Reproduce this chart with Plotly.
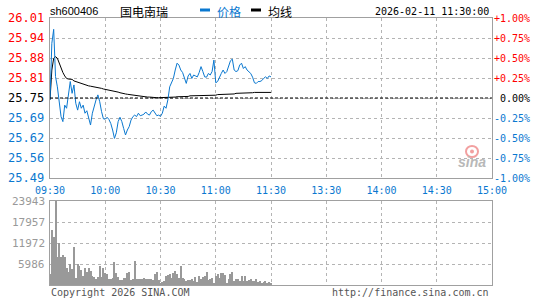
import plotly.graph_objects as go

# ---------------- data ----------------
minutes = list(range(121))  # minute offsets from 09:30 (morning session)

price = [25.744, 25.926, 25.971, 25.819, 25.786, 25.738, 25.690, 25.674, 25.727, 25.717,
         25.770, 25.803, 25.765, 25.792, 25.733, 25.711, 25.738, 25.717, 25.727, 25.701,
         25.709, 25.681, 25.663, 25.701, 25.727, 25.744, 25.760, 25.738, 25.706, 25.683,
         25.682, 25.688, 25.681, 25.668, 25.647, 25.620, 25.638, 25.674, 25.688, 25.674,
         25.652, 25.631, 25.647, 25.658, 25.679, 25.690, 25.695, 25.690, 25.701, 25.693,
         25.695, 25.698, 25.705, 25.698, 25.695, 25.706, 25.711, 25.701, 25.693, 25.695,
         25.691, 25.701, 25.724, 25.717, 25.744, 25.786, 25.803, 25.813, 25.840, 25.862,
         25.856, 25.840, 25.832, 25.817, 25.797, 25.821, 25.829, 25.813, 25.824, 25.821,
         25.818, 25.832, 25.851, 25.835, 25.818, 25.817, 25.829, 25.824, 25.835, 25.872,
         25.799, 25.803, 25.818, 25.829, 25.840, 25.829, 25.835, 25.851, 25.870, 25.875,
         25.840, 25.835, 25.838, 25.856, 25.862, 25.845, 25.851, 25.840, 25.835, 25.829,
         25.817, 25.799, 25.797, 25.803, 25.803, 25.806, 25.813, 25.818, 25.813, 25.821,
         25.818]

avg_price = [25.744, 25.840, 25.878, 25.883, 25.878, 25.862, 25.846, 25.832, 25.821, 25.813,
             25.811, 25.811, 25.810, 25.805, 25.803, 25.799, 25.797, 25.795, 25.793, 25.792,
             25.791, 25.789, 25.788, 25.787, 25.787, 25.785, 25.784, 25.783, 25.781, 25.779,
             25.778, 25.777, 25.776, 25.775, 25.773, 25.772, 25.770, 25.769, 25.767, 25.765,
             25.764, 25.763, 25.762, 25.761, 25.760, 25.759, 25.758, 25.757, 25.757, 25.755,
             25.755, 25.754, 25.754, 25.753, 25.753, 25.752, 25.752, 25.751, 25.751, 25.751,
             25.751, 25.751, 25.751, 25.751, 25.751, 25.751, 25.752, 25.753, 25.753, 25.754,
             25.754, 25.755, 25.755, 25.755, 25.755, 25.755, 25.757, 25.757, 25.757, 25.757,
             25.757, 25.758, 25.758, 25.758, 25.758, 25.758, 25.759, 25.759, 25.759, 25.759,
             25.759, 25.761, 25.761, 25.761, 25.761, 25.761, 25.763, 25.763, 25.763, 25.763,
             25.763, 25.765, 25.765, 25.765, 25.765, 25.765, 25.767, 25.767, 25.767, 25.767,
             25.767, 25.768, 25.768, 25.768, 25.768, 25.768, 25.768, 25.768, 25.768, 25.768,
             25.768]

volume = [3220, 15590, 13770, 23943, 8070, 12060, 8070, 8640, 8070, 4930,
          3790, 5900, 4560, 10920, 2080, 6070, 5420, 4190, 2650, 4930,
          3790, 4930, 3990, 2650, 2370, 1800, 2370, 5420, 2370, 4930,
          3420, 3220, 1800, 1800, 2080, 6560, 3420, 2370, 1340, 1340,
          2080, 2080, 3510, 3790, 1340, 1800, 6840, 1620, 1800, 1800,
          1620, 2080, 1620, 1800, 1800, 1800, 1340, 3220, 3790, 1340,
          660, 940, 1140, 2570, 2760, 3220, 2080, 3420, 3990, 3050,
          1910, 5420, 2080, 1620, 1140, 1510, 1340, 1800, 1140, 2280,
          940, 2650, 1620, 2280, 2570, 3790, 1510, 1800, 2080, 660,
          2480, 3220, 2080, 3420, 3420, 2760, 660, 1800, 3220, 3790,
          1140, 1620, 1620, 1140, 2650, 1140, 2480, 1140, 1340, 1800,
          1140, 1140, 1800, 940, 1140, 660, 940, 1140, 660, 940,
          660]

prev_close = 25.75
time_tick_pos = [0, 30, 60, 90, 120, 150, 180, 210, 240]
time_tick_text = ["09:30", "10:00", "10:30", "11:00", "11:30", "13:30", "14:00", "14:30", "15:00"]
price_tick_vals = [25.4925, 25.556875, 25.62125, 25.685625, 25.75, 25.814375, 25.87875, 25.943125, 26.0075]
price_tick_text = ["25.49", "25.56", "25.62", "25.69", "25.75", "25.81", "25.88", "25.94", "26.01"]
pct_tick_text = ["-1.00%", "-0.75%", "-0.50%", "-0.25%", "0.00%", "+0.25%", "+0.50%", "+0.75%", "+1.00%"]
vol_tick_vals = [0, 5986, 11972, 17957, 23943]
vol_tick_text = ["", "5986", "11972", "17957", "23943"]

# ---------------- layout helpers ----------------
W, H = 545, 300
L, R, T, B = 50, 492, 18, 285
PW, PH = R - L, B - T


def px(x):
    return (x - L) / PW


def py(y):
    return (B - y) / PH


RED = "#ff0000"
BLUE = "#0a78d0"
GRID = "#b4b4b4"
BORDER = "#a0a0a0"
MONO = "DejaVu Sans Mono"

fig = go.Figure()

fig.add_trace(go.Bar(x=minutes, y=volume, xaxis="x2", yaxis="y2", width=0.55,
                     marker=dict(color="#999999", line=dict(width=0)), showlegend=False))
fig.add_trace(go.Scatter(x=minutes, y=avg_price, mode="lines", line=dict(color="#000000", width=1),
                         showlegend=False))
fig.add_trace(go.Scatter(x=minutes, y=price, mode="lines", line=dict(color=BLUE, width=1),
                         showlegend=False))

axis_common = dict(showline=True, mirror=True, linecolor=BORDER, linewidth=1,
                   showgrid=True, gridcolor=GRID, griddash="dot", gridwidth=1,
                   zeroline=False, ticks="", fixedrange=True)

fig.update_layout(
    width=W, height=H,
    margin=dict(l=L, r=W - R, t=T, b=H - B),
    paper_bgcolor="white", plot_bgcolor="white",
    bargap=0,
    xaxis=dict(domain=[0, 1], anchor="y", range=[0, 240], tickmode="array",
               tickvals=time_tick_pos, ticktext=time_tick_text, ticklabelstandoff=3,
               tickfont=dict(family=MONO, size=10, color=BLUE), **axis_common),
    yaxis=dict(domain=[py(178), 1], anchor="x", range=[price_tick_vals[0], price_tick_vals[-1]],
               tickmode="array", tickvals=price_tick_vals, showticklabels=False, **axis_common),
    xaxis2=dict(domain=[0, 1], anchor="y2", range=[0, 240], tickmode="array",
                tickvals=time_tick_pos, showticklabels=False, **axis_common),
    yaxis2=dict(domain=[0, py(201)], anchor="x2", range=[0, vol_tick_vals[-1]],
                tickmode="array", tickvals=vol_tick_vals, showticklabels=False, **axis_common),
)

# previous close dashed line
fig.add_shape(type="line", xref="x", yref="y", x0=0, x1=240, y0=prev_close, y1=prev_close,
              line=dict(color="#000000", width=1, dash="3px,2px"))

ann = []
# left price labels & right pct labels
for v, t, p in zip(price_tick_vals, price_tick_text, pct_tick_text):
    col = RED if v > prev_close + 1e-9 else ("#000000" if abs(v - prev_close) < 1e-9 else BLUE)
    ann.append(dict(xref="paper", yref="y", x=px(46), y=v, text=t, showarrow=False,
                    xanchor="right", yanchor="middle", font=dict(family=MONO, size=12, color=col)))
    ann.append(dict(xref="paper", yref="y", x=px(532), y=v, text=p, showarrow=False,
                    xanchor="right", yanchor="middle", font=dict(family=MONO, size=10, color=col)))
# volume labels
for v, t in zip(vol_tick_vals, vol_tick_text):
    if t:
        ann.append(dict(xref="paper", yref="y2", x=px(47), y=v, text=t, showarrow=False,
                        xanchor="right", yanchor="middle",
                        font=dict(family=MONO, size=11, color="#999999")))

# header
ann.append(dict(xref="paper", yref="paper", x=px(48), y=py(11), text="sh600406", showarrow=False,
                xanchor="left", yanchor="middle", font=dict(family="Liberation Sans", size=11, color="#000")))
ann.append(dict(xref="paper", yref="paper", x=px(144), y=py(12), text="国电南瑞", showarrow=False,
                xanchor="center", yanchor="middle", font=dict(family="Noto Sans CJK SC", size=12, color="#000")))
ann.append(dict(xref="paper", yref="paper", x=px(215), y=py(12), text="价格", showarrow=False,
                xanchor="left", yanchor="middle", font=dict(family="Noto Sans CJK SC", size=12, color=BLUE)))
ann.append(dict(xref="paper", yref="paper", x=px(266), y=py(12), text="均线", showarrow=False,
                xanchor="left", yanchor="middle", font=dict(family="Noto Sans CJK SC", size=12, color="#000")))
ann.append(dict(xref="paper", yref="paper", x=px(491), y=py(12), text="2026-02-11 11:30:00", showarrow=False,
                xanchor="right", yanchor="middle", font=dict(family=MONO, size=10, color="#000")))
# footer
ann.append(dict(xref="paper", yref="paper", x=px(49), y=py(292), text="Copyright 2026 SINA.COM", showarrow=False,
                xanchor="left", yanchor="middle", font=dict(family=MONO, size=10, color="#555555")))
ann.append(dict(xref="paper", yref="paper", x=px(491), y=py(292), text="http://finance.sina.com.cn",
                showarrow=False, xanchor="right", yanchor="middle",
                font=dict(family=MONO, size=10, color="#555555")))
# watermark
ann.append(dict(xref="paper", yref="paper", x=px(472), y=py(162), text="<b><i>sina</i></b>", showarrow=False,
                xanchor="center", yanchor="middle",
                font=dict(family="Liberation Sans", size=14, color="#b8b8b8")))
fig.update_layout(annotations=ann)

# legend swatches
fig.add_shape(type="rect", xref="paper", yref="paper", x0=px(200), x1=px(210), y0=py(11.5), y1=py(8.5),
              line=dict(width=0), fillcolor=BLUE)
fig.add_shape(type="rect", xref="paper", yref="paper", x0=px(251), x1=px(261), y0=py(11.5), y1=py(8.5),
              line=dict(width=0), fillcolor="#000000")
# watermark eye
fig.add_shape(type="circle", xref="paper", yref="paper", x0=px(466), x1=px(478), y0=py(157), y1=py(146),
              line=dict(color="#f2a0a0", width=2), fillcolor="rgba(0,0,0,0)")
fig.add_shape(type="circle", xref="paper", yref="paper", x0=px(470), x1=px(474), y0=py(153.5), y1=py(149.5),
              line=dict(width=0), fillcolor="#f2a0a0")

fig.write_html("out.html")
